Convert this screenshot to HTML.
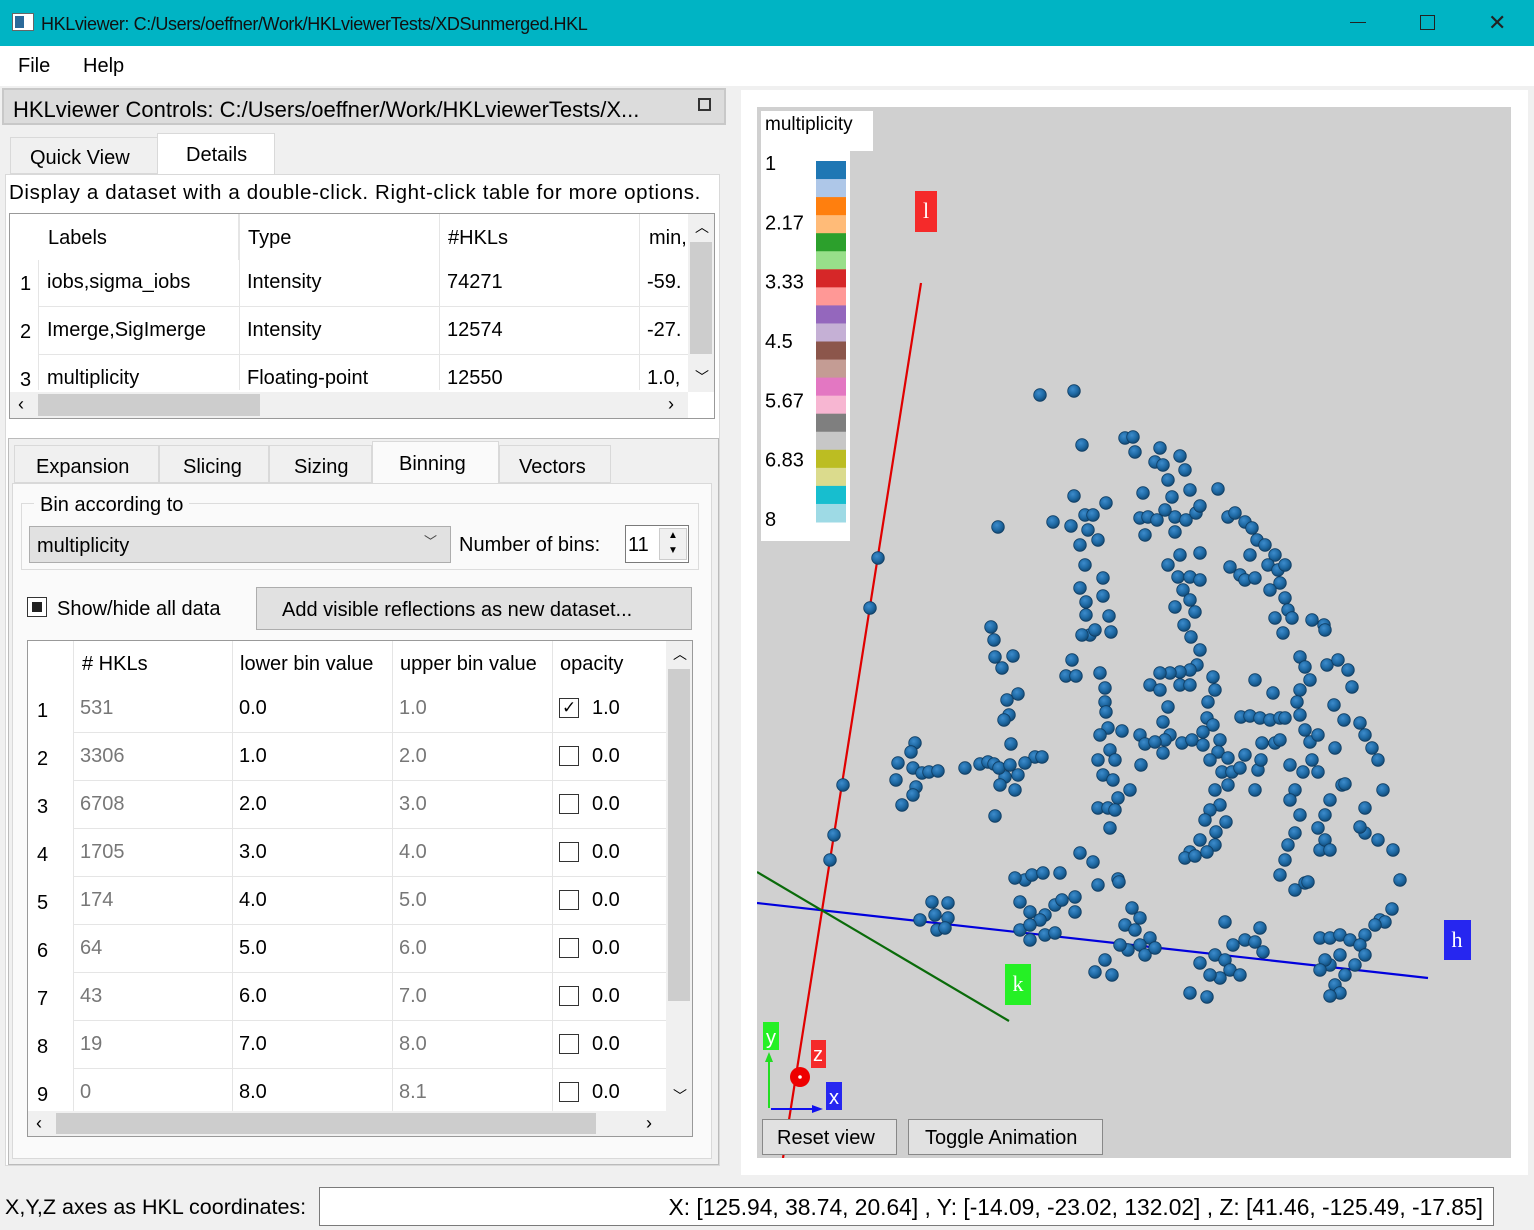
<!DOCTYPE html>
<html><head><meta charset="utf-8">
<style>
*{box-sizing:border-box;margin:0;padding:0}
body{width:1534px;height:1230px;position:relative;overflow:hidden;background:#f0f0f0;font-family:"Liberation Sans",sans-serif;font-size:20px;color:#000}
.a{position:absolute}
.t{position:absolute;white-space:nowrap;line-height:1}
.cell{position:absolute;border-right:1px solid #e5e5e5;border-bottom:1px solid #e5e5e5}
.gray{color:#777}
.cb{position:absolute;width:20px;height:20px;border:1px solid #333;background:#fff}
.btn{position:absolute;background:#e1e1e1;border:1px solid #adadad;text-align:center}
</style></head><body>
<!-- title bar -->
<div class="a" style="left:0;top:0;width:1534px;height:46px;background:#00b4c4">
 <div class="a" style="left:12px;top:13px;width:22px;height:18px;background:#fff;border:1px solid #666"><div class="a" style="left:2px;top:2px;width:9px;height:12px;background:#2b6a9a"></div></div>
 <div class="t" style="left:41px;top:15px;font-size:18px;color:#111;letter-spacing:-0.4px">HKLviewer: C:/Users/oeffner/Work/HKLviewerTests/XDSunmerged.HKL</div>
 <div class="a" style="left:1350px;top:22px;width:16px;height:1px;background:#222"></div>
 <div class="a" style="left:1420px;top:15px;width:15px;height:15px;border:1px solid #222"></div>
 <div class="t" style="left:1488px;top:12px;font-size:22px;color:#222">✕</div>
</div>
<!-- menu -->
<div class="a" style="left:0;top:46px;width:1534px;height:40px;background:#fff">
 <div class="t" style="left:18px;top:10px">File</div>
 <div class="t" style="left:83px;top:10px">Help</div>
</div>
<!-- dock title -->
<div class="a" style="left:2px;top:88px;width:724px;height:37px;background:#dcdcdc;border:2px solid #c8c8c8">
 <div class="t" style="left:9px;top:9px;font-size:22px">HKLviewer Controls: C:/Users/oeffner/Work/HKLviewerTests/X...</div>
 <div class="a" style="left:694px;top:8px;width:13px;height:13px;border:2px solid #333;background:#dcdcdc"></div>
</div>
<!-- top tabs -->
<div class="a" style="left:10px;top:137px;width:148px;height:37px;background:#f0f0f0;border:1px solid #d9d9d9"><div class="t" style="left:19px;top:10px">Quick View</div></div>
<div class="a" style="left:157px;top:133px;width:118px;height:42px;background:#fff;border:1px solid #d9d9d9;border-bottom:none"><div class="t" style="left:28px;top:11px">Details</div></div>
<div class="a" style="left:5px;top:174px;width:715px;height:992px;background:#fff;border:1px solid #d9d9d9"></div>
<div class="t" style="left:9px;top:183px;font-size:20.5px;letter-spacing:0.62px">Display a dataset with a double-click. Right-click table for more options.</div>
<!-- dataset table -->
<div class="a" style="left:9px;top:213px;width:706px;height:206px;background:#fff;border:1px solid #999;overflow:hidden">
 <div class="cell" style="left:28px;top:0;width:201px;height:46px;border-bottom:none"></div>
 <div class="t" style="left:38px;top:14px">Labels</div><div class="t" style="left:238px;top:14px">Type</div><div class="t" style="left:438px;top:14px">#HKLs</div><div class="t" style="left:639px;top:14px">min,</div>
 <div class="a" style="left:229px;top:0;width:1px;height:176px;background:#e5e5e5"></div>
 <div class="a" style="left:429px;top:0;width:1px;height:176px;background:#e5e5e5"></div>
 <div class="a" style="left:629px;top:0;width:1px;height:176px;background:#e5e5e5"></div>
 <div class="a" style="left:28px;top:46px;width:1px;height:130px;background:#e5e5e5"></div>
 <div class="a" style="left:28px;top:92px;width:650px;height:1px;background:#e5e5e5"></div>
 <div class="a" style="left:28px;top:140px;width:650px;height:1px;background:#e5e5e5"></div>
 <div class="t" style="left:10px;top:60px">1</div><div class="t" style="left:37px;top:58px">iobs,sigma_iobs</div><div class="t" style="left:237px;top:58px">Intensity</div><div class="t" style="left:437px;top:58px">74271</div><div class="t" style="left:637px;top:58px">-59.</div>
 <div class="t" style="left:10px;top:108px">2</div><div class="t" style="left:37px;top:106px">Imerge,SigImerge</div><div class="t" style="left:237px;top:106px">Intensity</div><div class="t" style="left:437px;top:106px">12574</div><div class="t" style="left:637px;top:106px">-27.</div>
 <div class="t" style="left:10px;top:156px">3</div><div class="t" style="left:37px;top:154px">multiplicity</div><div class="t" style="left:237px;top:154px">Floating-point</div><div class="t" style="left:437px;top:154px">12550</div><div class="t" style="left:637px;top:154px">1.0,</div>
 <div class="a" style="left:678px;top:0;width:26px;height:178px;background:#f0f0f0"><div class="a" style="left:2px;top:28px;width:22px;height:112px;background:#cdcdcd"></div><div class="t" style="left:7px;top:6px;font-size:14px">︿</div><div class="t" style="left:7px;top:156px;font-size:14px">﹀</div></div>
 <div class="a" style="left:0;top:178px;width:678px;height:26px;background:#f0f0f0"><div class="a" style="left:28px;top:2px;width:222px;height:22px;background:#cdcdcd"></div><div class="t" style="left:8px;top:3px;font-size:18px">‹</div><div class="t" style="left:658px;top:3px;font-size:18px">›</div></div>
</div>
<!-- lower group -->
<div class="a" style="left:8px;top:438px;width:711px;height:727px;border:1px solid #bbb;background:#f0f0f0"></div>
<div class="a" style="left:14px;top:445px;width:145px;height:38px;border:1px solid #d9d9d9;background:#f0f0f0"><div class="t" style="left:21px;top:11px">Expansion</div></div>
<div class="a" style="left:159px;top:445px;width:110px;height:38px;border:1px solid #d9d9d9;background:#f0f0f0"><div class="t" style="left:23px;top:11px">Slicing</div></div>
<div class="a" style="left:269px;top:445px;width:103px;height:38px;border:1px solid #d9d9d9;background:#f0f0f0"><div class="t" style="left:24px;top:11px">Sizing</div></div>
<div class="a" style="left:372px;top:441px;width:127px;height:43px;border:1px solid #d9d9d9;border-bottom:none;background:#fafafa"><div class="t" style="left:26px;top:12px">Binning</div></div>
<div class="a" style="left:499px;top:445px;width:112px;height:38px;border:1px solid #d9d9d9;background:#f0f0f0"><div class="t" style="left:19px;top:11px">Vectors</div></div>
<div class="a" style="left:12px;top:483px;width:700px;height:676px;background:#fafafa;border:1px solid #d9d9d9"></div>
<div class="a" style="left:21px;top:503px;width:678px;height:67px;border:1px solid #dcdcdc"></div>
<div class="t" style="left:34px;top:495px;background:#fafafa;padding:0 6px">Bin according to</div>
<div class="a" style="left:29px;top:526px;width:422px;height:37px;background:#e1e1e1;border:1px solid #adadad"><div class="t" style="left:7px;top:9px">multiplicity</div><div class="t" style="left:394px;top:8px;font-size:13px;color:#444">﹀</div></div>
<div class="t" style="left:459px;top:535px">Number of bins:</div>
<div class="a" style="left:625px;top:525px;width:64px;height:38px;background:#fff;border:1px solid #7a7a7a"><div class="t" style="left:2px;top:9px">11</div><div class="a" style="left:33px;top:2px;width:28px;height:32px;background:#f0f0f0;border:1px solid #ccc"><div class="t" style="left:8px;top:2px;font-size:10px">▲</div><div class="t" style="left:8px;top:17px;font-size:10px">▼</div></div></div>
<div class="cb" style="left:27px;top:597px;border-color:#333"><div class="a" style="left:4px;top:4px;width:10px;height:10px;background:#222"></div></div>
<div class="t" style="left:57px;top:599px">Show/hide all data</div>
<div class="btn" style="left:256px;top:587px;width:436px;height:43px"><div class="t" style="left:25px;top:12px">Add visible reflections as new dataset...</div></div>
<!-- bins table -->
<div class="a" style="left:27px;top:640px;width:666px;height:497px;background:#fff;border:1px solid #999;overflow:hidden" id="bins"></div>
<!-- status bar -->
<div class="t" style="left:5px;top:1197px;font-size:21.5px">X,Y,Z axes as HKL coordinates:</div>
<div class="a" style="left:319px;top:1187px;width:1175px;height:39px;background:#fff;border:1px solid #7a7a7a"><div class="t" style="right:10px;top:8px;font-size:22.8px">X: [125.94, 38.74, 20.64] , Y: [-14.09, -23.02, 132.02] , Z: [41.46, -125.49, -17.85]</div></div>
<!-- viewer -->
<div class="a" style="left:741px;top:90px;width:787px;height:1085px;background:#fff"></div>
<svg class="a" style="left:0;top:0" width="1534" height="1230" id="sv">
 <defs><radialGradient id="sg" cx="40%" cy="35%" r="65%"><stop offset="0" stop-color="#3d8ccc"/><stop offset="0.6" stop-color="#1f6aa5"/><stop offset="1" stop-color="#134a75"/></radialGradient>
 <clipPath id="vc"><rect x="757" y="107" width="754" height="1051"/></clipPath></defs>
 <rect x="757" y="107" width="754" height="1051" fill="#d0d0d0"/>
 <g clip-path="url(#vc)">
  <line x1="921" y1="283" x2="783" y2="1158" stroke="#e00000" stroke-width="2.2"/>
  <line x1="757" y1="903" x2="1428" y2="978" stroke="#0000dd" stroke-width="2.2"/>
  <line x1="757" y1="872" x2="1009" y2="1021" stroke="#0a6b0a" stroke-width="2.2"/>
  <g id="pts"></g>
 </g>
 <rect x="915" y="191" width="22" height="41" fill="#f52a2a"/><text x="926" y="218" fill="#fff" font-family="Liberation Serif" font-size="22" text-anchor="middle">l</text>
 <rect x="1444" y="920" width="27" height="40" fill="#2626f0"/><text x="1457" y="947" fill="#fff" font-family="Liberation Serif" font-size="22" text-anchor="middle">h</text>
 <rect x="1005" y="964" width="26" height="41" fill="#25f025"/><text x="1018" y="991" fill="#fff" font-family="Liberation Serif" font-size="22" text-anchor="middle">k</text>
 <g>
  <line x1="769" y1="1108" x2="769" y2="1060" stroke="#22dd22" stroke-width="2"/><polygon points="765,1062 773,1062 769,1052" fill="#22dd22"/>
  <line x1="771" y1="1109" x2="815" y2="1109" stroke="#1010ee" stroke-width="2"/><polygon points="812,1105 812,1113 823,1109" fill="#1010ee"/>
  <circle cx="800" cy="1077" r="10" fill="#ee0000"/><circle cx="800" cy="1077" r="1.8" fill="#fff"/>
  <rect x="763" y="1022" width="16" height="28" fill="#25f025"/><text x="771" y="1044" fill="#fff" font-size="20" text-anchor="middle">y</text>
  <rect x="811" y="1040" width="15" height="28" fill="#f52a2a"/><text x="818" y="1061" fill="#fff" font-size="20" text-anchor="middle">z</text>
  <rect x="826" y="1082" width="16" height="28" fill="#2626f0"/><text x="834" y="1104" fill="#fff" font-size="20" text-anchor="middle">x</text>
 </g>
 <g id="legend">
  <rect x="761" y="111" width="112" height="40" fill="#fff"/><rect x="761" y="150" width="89" height="391" fill="#fff"/>
  <text x="765" y="130" font-size="19">multiplicity</text>
 </g>
</svg>
<div class="btn" style="left:762px;top:1119px;width:135px;height:36px;border-color:#888"><div class="t" style="left:14px;top:8px">Reset view</div></div>
<div class="btn" style="left:908px;top:1119px;width:195px;height:36px;border-color:#888"><div class="t" style="left:16px;top:8px">Toggle Animation</div></div>
<script>
// scene coordinates (projected units), origin at viewport bottom-left, 1 unit = 10px
const ptX=[28.3,31.7,32.5,36.8,37.6,37.8,40.3,39.8,42.3,40.6,42.8,41.1,43.3,46.1,38.6,41.5,31.7,34.9,24.1,29.6,31.4,32.8,33.6,33.1,32.3,34.1,32.8,34.6,32.3,32.9,34.6,35.2,32.9,33.3,32.5,33.8,35.4,31.5,30.9,31.9,34.3,34.8,34.8,34.9,35.1,36.5,34.3,35.3,35.8,34.1,34.6,35.6,37.3,36.1,34.1,35.1,35.8,35.3,32.3,33.6,36.1,
23.4,23.7,23.8,25.6,24.5,26.1,25.0,25.2,24.7,25.4,27.8,28.5,26.8,26.1,24.8,24.3,25.8,23.8,20.8,22.3,23.1,23.7,24.2,25.3,
15.8,15.4,14.1,15.6,16.5,17.2,18.1,13.9,15.9,15.6,14.5,
38.3,39.1,40.0,41.8,42.9,43.9,44.3,40.8,38.8,41.8,42.3,44.3,41.1,42.1,43.3,44.3,42.6,41.8,43.3,43.8,42.7,43.4,44.3,44.0,43.3,42.3,41.3,40.3,39.3,40.3,42.3,43.3,45.6,45.8,45.1,45.0,45.6,44.6,46.3,46.1,45.3,47.1,46.5,47.1,45.8,46.3,45.3,44.8,46.9,45.9,45.8,44.3,43.3,42.8,43.8,45.0,41.1,40.6,41.3,40.8,38.3,38.8,39.8,42.5,43.5,44.6,38.4,40.6,
47.1,47.8,48.8,49.5,50.0,50.8,51.8,49.3,48.3,47.3,48.8,49.8,51.1,52.1,52.8,52.3,52.8,51.3,53.1,51.8,53.5,52.6,54.3,54.8,55.3,54.3,54.0,54.3,54.8,55.3,55.5,56.7,56.8,57.0,58.1,59.1,59.5,57.7,58.7,56.1,55.5,54.6,53.8,53.3,54.3,53.8,53.1,52.8,52.3,53.8,54.8,55.1,56.3,56.8,57.3,56.1,56.8,57.3,58.5,58.8,56.1,57.8,60.3,60.8,61.5,62.1,62.6,60.8,60.8,62.1,63.6,64.3,63.5,62.3,62.8,60.8,61.8,60.3,49.8,51.6,48.4,49.3,50.3,51.3,52.3,50.5,51.8,52.8,48.8,47.5,48.3,50.1,49.8,50.4,52.3,53.3,
26.8,25.8,27.5,28.6,30.3,26.3,27.3,28.8,29.8,30.5,31.8,31.8,28.3,26.3,27.3,28.8,29.8,27.3,17.5,19.1,16.3,17.8,19.1,18.0,18.8,34.1,36.2,37.5,38.3,36.8,37.8,39.3,38.3,37.1,36.3,38.8,39.8,34.8,35.5,33.8,46.8,47.6,48.8,49.8,50.3,50.6,45.8,46.8,47.3,48.3,46.3,45.3,44.3,43.3,45.0,56.3,57.3,58.3,59.3,60.3,60.8,58.3,57.3,58.8,57.8,58.3,57.3,56.8,56.3,59.8,
12.1,11.3,8.6,7.7,7.3];
const ptY=[76.3,76.7,71.3,72.0,72.1,70.6,71.0,69.6,70.2,69.3,68.8,67.8,66.8,66.9,66.5,66.1,66.2,65.5,63.1,63.6,63.2,64.3,64.3,62.8,61.3,61.8,59.3,58.0,57.0,55.6,56.2,54.2,54.3,52.3,52.3,52.8,52.6,49.8,48.2,48.2,48.5,47.0,45.6,44.6,43.0,42.7,42.3,40.8,39.8,39.8,38.3,37.8,36.8,36.0,35.0,35.0,34.8,33.0,30.5,29.6,27.9,
53.1,51.8,50.1,50.2,49.0,46.4,45.8,44.3,43.8,41.4,40.1,40.1,39.5,38.3,38.1,37.3,36.8,34.2,39.0,39.4,39.6,39.4,39.0,39.3,
41.5,40.6,39.5,39.0,38.5,38.6,38.7,37.8,37.1,36.3,35.3,
64.0,64.1,63.8,64.1,63.8,64.5,65.2,64.8,62.3,62.6,60.3,60.5,59.3,58.1,58.1,57.8,56.8,55.1,55.8,54.6,53.3,52.1,50.8,49.3,48.8,48.6,48.5,48.5,47.3,46.8,47.3,47.3,48.1,46.8,45.6,44.0,43.3,42.6,41.8,40.6,39.8,40.0,38.6,37.3,36.8,35.3,34.8,33.8,33.6,32.6,31.3,31.8,30.6,30.0,30.2,30.6,45.1,43.6,42.3,41.8,42.3,41.4,41.6,41.5,41.8,41.3,39.3,40.5,
64.1,64.5,63.6,63.0,61.8,61.3,60.3,60.3,58.3,59.1,57.8,58.0,59.3,58.8,59.3,57.5,56.0,56.8,54.8,54.0,54.0,52.5,50.1,49.1,47.8,46.8,45.6,44.3,42.8,41.6,53.8,53.3,52.8,49.3,49.8,48.8,47.1,45.3,43.8,42.3,39.8,38.6,36.8,35.8,34.3,32.5,31.3,29.8,28.3,26.8,27.5,27.6,30.8,31.8,30.8,33.0,34.3,35.8,37.3,37.4,38.6,41.0,43.5,42.3,41.0,39.8,36.8,35.0,32.5,31.8,30.8,27.8,24.9,23.8,23.6,22.3,23.3,33.1,47.8,46.5,44.1,44.2,44.0,43.8,44.0,41.5,41.5,44.0,40.3,38.6,39.0,38.8,36.8,39.8,41.8,39.3,
27.8,28.0,28.3,28.5,28.5,25.6,24.6,24.3,25.3,25.8,26.1,24.6,23.8,22.8,21.8,22.3,22.5,23.3,25.6,25.5,23.8,24.3,24.0,22.8,23.0,27.3,27.6,25.0,24.0,23.3,22.8,22.0,21.3,20.8,21.3,20.3,21.0,19.8,18.3,18.6,23.6,21.3,21.8,21.6,23.0,20.6,20.3,19.8,18.8,18.3,18.0,18.3,19.5,16.5,16.1,22.0,22.0,22.3,21.8,21.3,20.3,20.3,19.3,18.3,17.3,16.5,16.2,19.8,18.8,19.3,
60.0,55.0,37.3,32.3,29.8];
// legend data
const legendLabels=["1","2.17","3.33","4.5","5.67","6.83","8"];
const legendColors=["#1f77b4","#aec7e8","#ff7f0e","#ffbb78","#2ca02c","#98df8a","#d62728","#ff9896","#9467bd","#c5b0d5","#8c564b","#c49c94","#e377c2","#f7b6d2","#7f7f7f","#c7c7c7","#bcbd22","#dbdb8d","#17becf","#9edae5"];
// bins table data
const binCounts=[531,3306,6708,1705,174,64,43,19,0];
const binLower=["0.0","1.0","2.0","3.0","4.0","5.0","6.0","7.0","8.0"];
const binUpper=["1.0","2.0","3.0","4.0","5.0","6.0","7.0","8.0","8.1"];
const binOpacity=["1.0","0.0","0.0","0.0","0.0","0.0","0.0","0.0","0.0"];

const NS="http://www.w3.org/2000/svg";
const sx=v=>757+v*10, sy=v=>1158-v*10;
const g=document.getElementById('pts');
for(let i=0;i<ptX.length;i++){
 const c=document.createElementNS(NS,'circle');
 c.setAttribute('cx',sx(ptX[i]));c.setAttribute('cy',sy(ptY[i]));c.setAttribute('r',6.3);
 c.setAttribute('fill','url(#sg)');c.setAttribute('stroke','#0f3d63');c.setAttribute('stroke-width','0.8');
 
 
 g.appendChild(c);
}
const lg=document.getElementById('legend');
const sw0=161,sw1=522,sh=(sw1-sw0)/legendColors.length;
legendColors.forEach((col,i)=>{
 const r=document.createElementNS(NS,'rect');
 r.setAttribute('x',816);r.setAttribute('y',sw0+i*sh);r.setAttribute('width',30);r.setAttribute('height',sh+0.5);r.setAttribute('fill',col);
 
 
 lg.appendChild(r);
});
legendLabels.forEach((l,i)=>{
 const t=document.createElementNS(NS,'text');
 t.setAttribute('x',765);t.setAttribute('y',170+i*(356/6));t.setAttribute('font-size',20);t.textContent=l;
 
 
 lg.appendChild(t);
});
const bt=document.getElementById('bins');
let h='<div class="t" style="left:54px;top:13px"># HKLs</div><div class="t" style="left:212px;top:13px">lower bin value</div><div class="t" style="left:372px;top:13px">upper bin value</div><div class="t" style="left:532px;top:13px">opacity</div>';
h+='<div class="a" style="left:45px;top:0;width:1px;height:470px;background:#e5e5e5"></div>';
[204,364,524].forEach(x=>{h+='<div class="a" style="left:'+x+'px;top:0;width:1px;height:470px;background:#e5e5e5"></div>';});
bt.innerHTML=h;
binCounts.forEach((n,i)=>{
 const y=45+i*48;
 const row=document.createElement('div');
 row.className='a';row.style.cssText='left:0;top:'+y+'px;width:640px;height:48px;';
 
 
 row.innerHTML='<div class="a" style="left:45px;top:46px;width:595px;height:1px;background:#e5e5e5"></div>'+
  '<div class="t" style="left:9px;top:15px">'+(i+1)+'</div>'+
  '<div class="t gray" style="left:52px;top:12px">'+n+'</div>'+
  '<div class="t" style="left:211px;top:12px">'+binLower[i]+'</div>'+
  '<div class="t gray" style="left:371px;top:12px">'+binUpper[i]+'</div>'+
  '<div class="cb" style="left:531px;top:12px">'+(binOpacity[i]==="1.0"?'<div class="t" style="left:2px;top:0;font-size:17px">✓</div>':'')+'</div>'+
  '<div class="t" style="left:564px;top:12px">'+binOpacity[i]+'</div>';
 bt.appendChild(row);
});
const vs=document.createElement('div');
vs.className='a';vs.style.cssText='left:638px;top:0;width:26px;height:470px;background:#f0f0f0';
vs.innerHTML='<div class="a" style="left:2px;top:28px;width:22px;height:332px;background:#cdcdcd"></div><div class="t" style="left:7px;top:6px;font-size:14px">︿</div><div class="t" style="left:7px;top:448px;font-size:14px">﹀</div>';


bt.appendChild(vs);
const hs=document.createElement('div');
hs.className='a';hs.style.cssText='left:0;top:470px;width:664px;height:25px;background:#f0f0f0';
hs.innerHTML='<div class="a" style="left:28px;top:2px;width:540px;height:21px;background:#cdcdcd"></div><div class="t" style="left:8px;top:3px;font-size:18px">‹</div><div class="t" style="left:618px;top:3px;font-size:18px">›</div>';


bt.appendChild(hs);
</script>
</body></html>
